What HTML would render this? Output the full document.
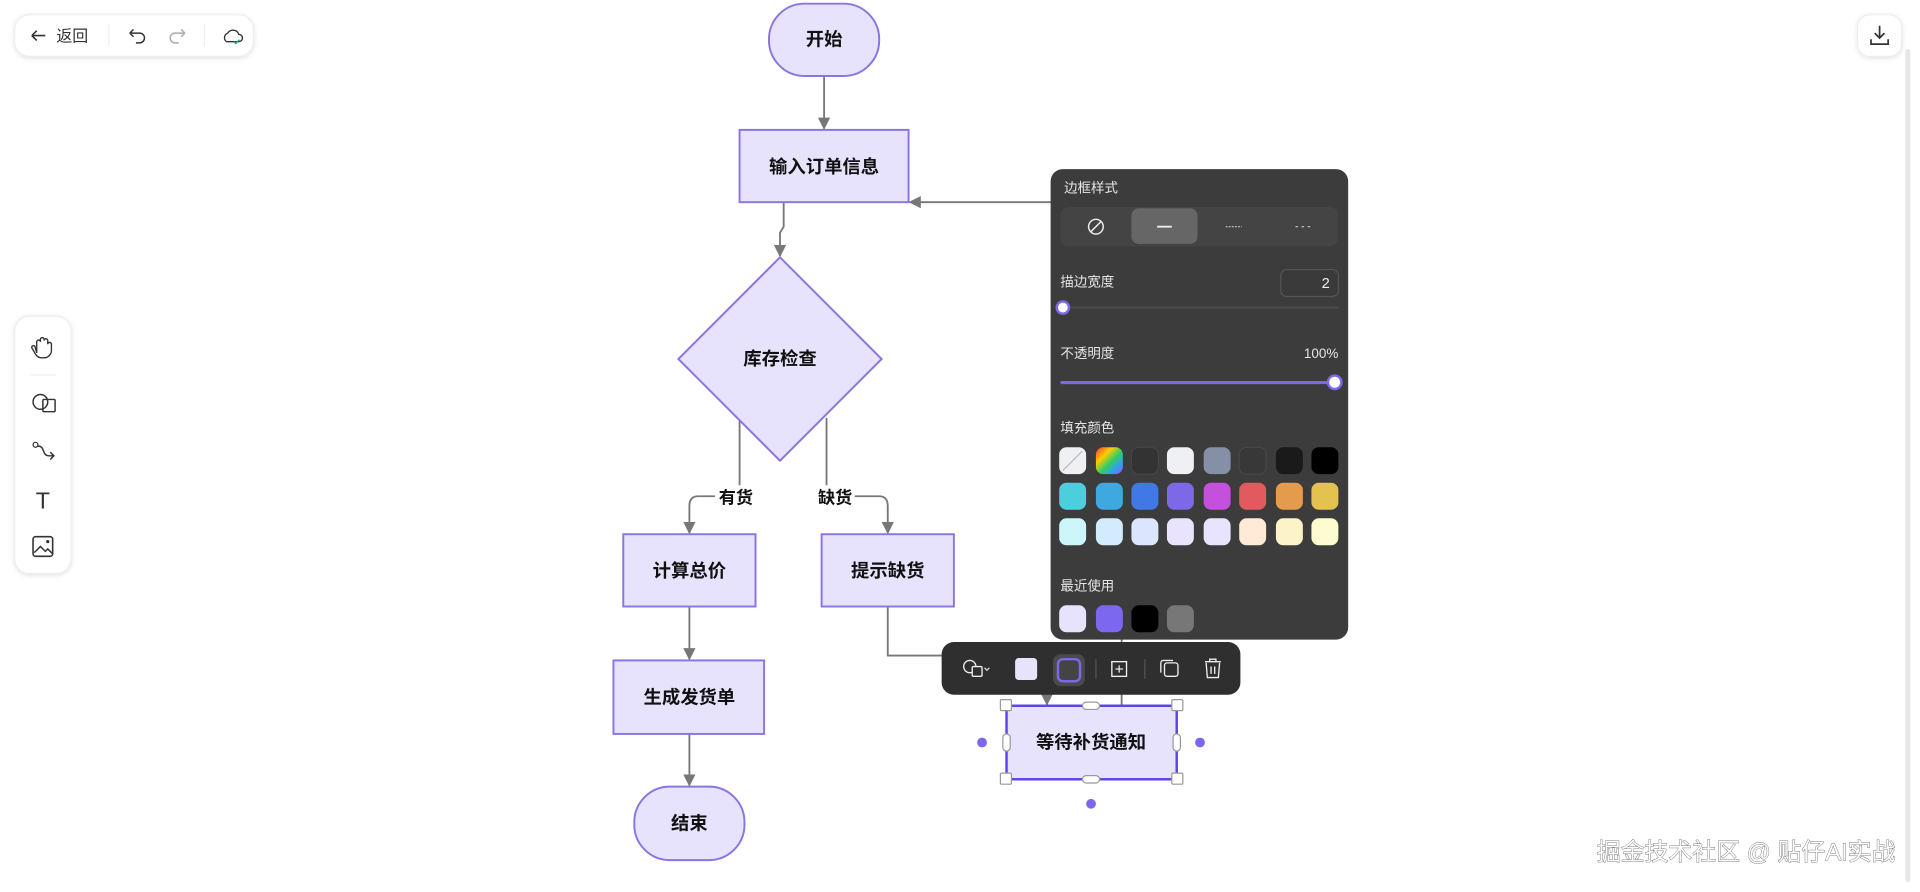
<!DOCTYPE html>
<html><head><meta charset="utf-8">
<style>
html,body{margin:0;padding:0;background:#fff;overflow:hidden;}
svg{display:block;}
text{font-family:"Liberation Sans","Noto Sans CJK SC",sans-serif;}
</style></head>
<body>
<svg width="1920" height="892" viewBox="0 0 1568 728" preserveAspectRatio="none" xmlns="http://www.w3.org/2000/svg">
<defs>
<marker id="ar" markerWidth="10" markerHeight="10" refX="9" refY="5" orient="auto" markerUnits="userSpaceOnUse">
<path d="M0,0 L10,5 L0,10 z" fill="#777"/></marker>
<filter id="sh" x="-20%" y="-20%" width="140%" height="140%"><feDropShadow dx="0" dy="1" stdDeviation="2" flood-opacity="0.12"/></filter>
<linearGradient id="rb" x1="0" y1="0" x2="1" y2="1"><stop offset="0" stop-color="#f33"/><stop offset="0.3" stop-color="#fc0"/><stop offset="0.55" stop-color="#3c6"/><stop offset="0.8" stop-color="#39f"/><stop offset="1" stop-color="#c3f"/></linearGradient>
</defs>
<rect width="1568" height="728" fill="#fff"/>
<rect x="1556" y="40" width="4" height="680" rx="2" fill="#e6e6e6"/>

<rect x="12" y="12" width="195" height="34" rx="12" fill="#fff" stroke="#eee" filter="url(#sh)"/>
<path d="M26,29 h11 M26,29 l4,-4 M26,29 l4,4" stroke="#333" stroke-width="1.3" fill="none"/>
<text x="46" y="34" font-size="13" fill="#333">返回</text>
<line x1="89" y1="20" x2="89" y2="38" stroke="#eee"/>
<path d="M106,27 h8 a4,4 0 0 1 0,8 h-3 M106,27 l3,-3 M106,27 l3,3" stroke="#333" stroke-width="1.2" fill="none"/>
<path d="M151,27 h-8 a4,4 0 0 0 0,8 h3 M151,27 l-3,-3 M151,27 l-3,3" stroke="#aaa" stroke-width="1.2" fill="none"/>
<line x1="167" y1="20" x2="167" y2="38" stroke="#eee"/>
<path d="M185,34 a4,4 0 0 1 1,-7 a5,5 0 0 1 9,1 a3,3 0 0 1 0,6 z" stroke="#333" stroke-width="1.1" fill="none"/>
<path d="M191,34 l1.5,1.5 l3,-3" stroke="#2a8" stroke-width="1.2" fill="none"/>

<rect x="1517" y="12" width="36" height="34" rx="10" fill="#fff" stroke="#eee" filter="url(#sh)"/>
<path d="M1535,21 v10 M1531,27 l4,4 l4,-4 M1528,32 v4 h14 v-4" stroke="#333" stroke-width="1.4" fill="none"/>

<rect x="12" y="258" width="46" height="210" rx="12" fill="#fff" stroke="#eee" filter="url(#sh)"/>
<path d="M30,288 v-9 a1.5,1.5 0 0 1 3,0 v-2 a1.5,1.5 0 0 1 3,0 v1 a1.5,1.5 0 0 1 3,0 v3 a1.5,1.5 0 0 1 3,0 v5 a6,6 0 0 1 -6,6 h-2 a6,6 0 0 1 -5,-3 l-3,-5 a1.5,1.5 0 0 1 2.5,-1.5 z" stroke="#333" stroke-width="1.1" fill="none"/>
<line x1="25" y1="306" x2="46" y2="306" stroke="#eee"/>
<circle cx="33" cy="328" r="6" stroke="#333" stroke-width="1.2" fill="none"/>
<rect x="35" y="326" width="10" height="10" rx="1" stroke="#333" stroke-width="1.2" fill="none"/>
<circle cx="29" cy="363" r="2" stroke="#333" fill="none"/>
<path d="M31,364 c6,0 3,8 9,8 h4 M41,369 l3,3 l-3,3" stroke="#333" stroke-width="1.2" fill="none"/>
<text x="35" y="415" font-size="19" text-anchor="middle" fill="#333" font-family="Liberation Serif">T</text>
<rect x="27" y="438" width="16" height="16" rx="2" stroke="#333" stroke-width="1.3" fill="none"/>
<path d="M28,451 l5,-5 l4,4 l2,-2 l4,4" stroke="#333" stroke-width="1.2" fill="none"/>
<circle cx="39" cy="442" r="1.3" fill="#333"/>

<g stroke="#777" stroke-width="1.5" fill="none">
<line x1="673" y1="62" x2="673" y2="105" marker-end="url(#ar)"/>
<path d="M640,165 V185 L637,190 V209" marker-end="url(#ar)"/>
<path d="M604,341 V405 H570 Q563,405 563,413 V435" marker-end="url(#ar)"/>
<path d="M675,341 V405 H718 Q725,405 725,413 V435" marker-end="url(#ar)"/>
<line x1="563" y1="495" x2="563" y2="538" marker-end="url(#ar)"/>
<line x1="563" y1="599" x2="563" y2="641" marker-end="url(#ar)"/>
<path d="M725,495 V535 H855 V575" marker-end="url(#ar)"/>
<path d="M916,576 V165 H743" marker-end="url(#ar)"/>
</g>
<rect x="584" y="396" width="34" height="18" fill="#fff"/>
<rect x="664" y="396" width="34" height="18" fill="#fff"/>
<text x="601" y="411" font-size="14" font-weight="bold" text-anchor="middle" fill="#111">有货</text>
<text x="682" y="411" font-size="14" font-weight="bold" text-anchor="middle" fill="#111">缺货</text>

<g fill="#e8e3fd" stroke="#8b75e0" stroke-width="1.6">
<rect x="628" y="3" width="90" height="59" rx="29"/>
<rect x="604" y="106" width="138" height="59"/>
<path d="M637,210 L720,293 L637,376 L554,293 z"/>
<rect x="509" y="436" width="108" height="59"/>
<rect x="671" y="436" width="108" height="59"/>
<rect x="501" y="539" width="123" height="60"/>
<rect x="518" y="642" width="90" height="60" rx="29"/>
</g>
<rect x="822" y="576" width="139" height="60" fill="#e8e3fd" stroke="#5b45e8" stroke-width="2"/>
<g font-size="15" font-weight="bold" text-anchor="middle" fill="#111">
<text x="673" y="37">开始</text>
<text x="673" y="141">输入订单信息</text>
<text x="637" y="298">库存检查</text>
<text x="563" y="471">计算总价</text>
<text x="725" y="471">提示缺货</text>
<text x="563" y="574">生成发货单</text>
<text x="563" y="677">结束</text>
<text x="891" y="611">等待补货通知</text>
</g>
<g fill="#fff" stroke="#999" stroke-width="1">
<rect x="817" y="571" width="9" height="9" rx="1"/><rect x="957" y="571" width="9" height="9" rx="1"/>
<rect x="817" y="631" width="9" height="9" rx="1"/><rect x="957" y="631" width="9" height="9" rx="1"/>
<rect x="884" y="573" width="14" height="6" rx="3"/><rect x="884" y="633" width="14" height="6" rx="3"/>
<rect x="819" y="599" width="6" height="14" rx="3"/><rect x="958" y="599" width="6" height="14" rx="3"/>
</g>
<g fill="#7b68ee"><circle cx="802" cy="606" r="4"/><circle cx="980" cy="606" r="4"/><circle cx="891" cy="656" r="4"/></g>

<rect x="769" y="524" width="244" height="43" rx="10" fill="#2f2f2f"/>
<circle cx="792" cy="544" r="5" stroke="#eee" stroke-width="1.1" fill="none"/>
<rect x="794" y="544" width="8" height="8" rx="1" fill="#2f2f2f" stroke="#eee" stroke-width="1.1"/>
<path d="M804,545 l2,2 l2,-2" stroke="#ddd" fill="none"/>
<rect x="829" y="537" width="18" height="18" rx="3" fill="#e8e3fd"/>
<rect x="860" y="534" width="26" height="26" rx="6" fill="#4a4a4a"/>
<rect x="864" y="538" width="18" height="18" rx="4" fill="#444" stroke="#7b68ee" stroke-width="2"/>
<line x1="895" y1="538" x2="895" y2="554" stroke="#555"/>
<rect x="908" y="540" width="12" height="12" stroke="#eee" stroke-width="1.1" fill="none"/>
<path d="M914,543 v6 M911,546 h6" stroke="#eee"/>
<line x1="935" y1="538" x2="935" y2="554" stroke="#555"/>
<rect x="951" y="541" width="11" height="11" rx="2" stroke="#eee" stroke-width="1.1" fill="none"/>
<path d="M948,549 v-8 a2,2 0 0 1 2,-2 h8" stroke="#eee" stroke-width="1.1" fill="none"/>
<path d="M984,540 h13 M988,540 v-2 h5 v2 M985,541 l1,12 h9 l1,-12 M989,544 v6 M992,544 v6" stroke="#eee" stroke-width="1.1" fill="none"/>

<rect x="858" y="138" width="243" height="384" rx="10" fill="#3c3c3c"/>
<g font-size="11" fill="#e6e6e6">
<text x="869" y="157">边框样式</text>
<text x="866" y="234">描边宽度</text>
<text x="866" y="292">不透明度</text>
<text x="1093" y="292" text-anchor="end">100%</text>
<text x="866" y="353">填充颜色</text>
<text x="866" y="482">最近使用</text>
</g>
<rect x="866" y="169" width="227" height="32" rx="7" fill="#444"/>
<rect x="924" y="170" width="54" height="29" rx="6" fill="#666"/>
<circle cx="895" cy="185" r="6" stroke="#eee" stroke-width="1.2" fill="none"/>
<line x1="891" y1="189" x2="899" y2="181" stroke="#eee" stroke-width="1.2"/>
<line x1="945" y1="185" x2="957" y2="185" stroke="#eee" stroke-width="1.5"/>
<line x1="1001" y1="185" x2="1014" y2="185" stroke="#ccc" stroke-width="1" stroke-dasharray="1.5,1"/>
<line x1="1058" y1="185" x2="1071" y2="185" stroke="#ccc" stroke-width="1" stroke-dasharray="2,3"/>
<rect x="1046" y="220" width="47" height="22" rx="5" fill="#3a3a3a" stroke="#555"/>
<text x="1086" y="235" font-size="12" fill="#eee" text-anchor="end">2</text>
<rect x="866" y="250" width="227" height="2" rx="1" fill="#4a4a4a"/>
<circle cx="868" cy="251" r="5" fill="#fff" stroke="#7b68ee" stroke-width="2"/>
<rect x="866" y="311" width="225" height="2.5" rx="1" fill="#7b68ee"/>
<circle cx="1090" cy="312" r="5.5" fill="#fff" stroke="#7b68ee" stroke-width="2"/>
<g>
<rect x="865" y="365" width="22" height="22" rx="6" fill="#eef0f4"/><line x1="868" y1="384" x2="884" y2="368" stroke="#bbb"/>
<rect x="895" y="365" width="22" height="22" rx="6" fill="url(#rb)"/>
<rect x="924" y="365" width="22" height="22" rx="6" fill="#333" stroke="#444"/>
<rect x="953" y="365" width="22" height="22" rx="6" fill="#eef0f4"/>
<rect x="983" y="365" width="22" height="22" rx="6" fill="#8590a6"/>
<rect x="1012" y="365" width="22" height="22" rx="6" fill="#383838" stroke="#474747"/>
<rect x="1042" y="365" width="22" height="22" rx="6" fill="#1a1a1a"/>
<rect x="1071" y="365" width="22" height="22" rx="6" fill="#000"/>
<rect x="865" y="394" width="22" height="22" rx="6" fill="#4ccfdc"/>
<rect x="895" y="394" width="22" height="22" rx="6" fill="#40a8e0"/>
<rect x="924" y="394" width="22" height="22" rx="6" fill="#4078e6"/>
<rect x="953" y="394" width="22" height="22" rx="6" fill="#7d68e8"/>
<rect x="983" y="394" width="22" height="22" rx="6" fill="#c550de"/>
<rect x="1012" y="394" width="22" height="22" rx="6" fill="#e25a5e"/>
<rect x="1042" y="394" width="22" height="22" rx="6" fill="#e49c4c"/>
<rect x="1071" y="394" width="22" height="22" rx="6" fill="#e3c250"/>
<rect x="865" y="423" width="22" height="22" rx="6" fill="#cdf6fb"/>
<rect x="895" y="423" width="22" height="22" rx="6" fill="#d3ecfd"/>
<rect x="924" y="423" width="22" height="22" rx="6" fill="#dbe6fe"/>
<rect x="953" y="423" width="22" height="22" rx="6" fill="#e9e3fd"/>
<rect x="983" y="423" width="22" height="22" rx="6" fill="#e8e4fd"/>
<rect x="1012" y="423" width="22" height="22" rx="6" fill="#feead6"/>
<rect x="1042" y="423" width="22" height="22" rx="6" fill="#fdf3c8"/>
<rect x="1071" y="423" width="22" height="22" rx="6" fill="#fdfcd0"/>
<rect x="865" y="494" width="22" height="22" rx="6" fill="#e8e3fd"/>
<rect x="895" y="494" width="22" height="22" rx="6" fill="#7b68ee"/>
<rect x="924" y="494" width="22" height="22" rx="6" fill="#000"/>
<rect x="953" y="494" width="22" height="22" rx="6" fill="#777"/>
</g>

<text x="1548" y="702" font-size="19.5" text-anchor="end" fill="#fff" stroke="#555" stroke-width="0.6" style="paint-order:stroke">掘金技术社区 @ 贴仔AI实战</text>
</svg>
</body></html>
